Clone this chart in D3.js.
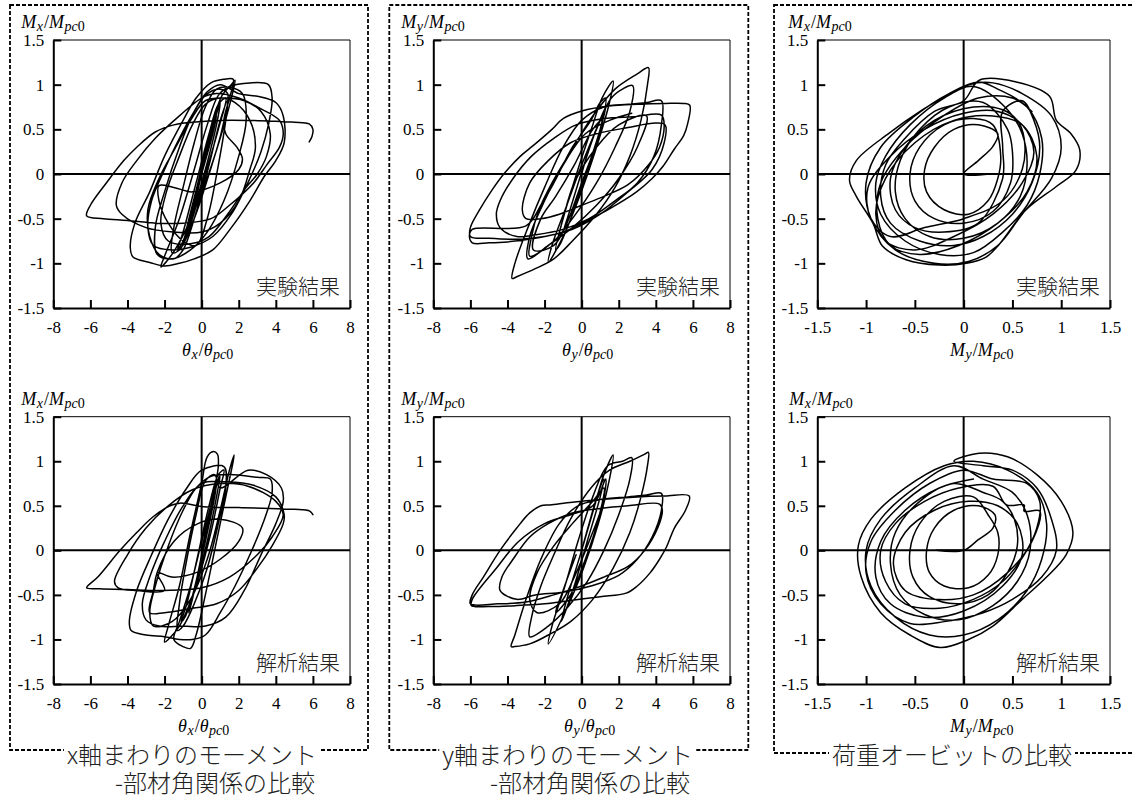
<!DOCTYPE html>
<html><head><meta charset="utf-8">
<script src="https://cdn.jsdelivr.net/npm/d3@7"></script>
<style>
body{margin:0;background:#fff}svg{display:block}
.serif{font-family:"Liberation Serif","Times New Roman","DejaVu Serif",serif}
.cjk{font-family:"Noto Sans CJK JP","Noto Sans CJK SC",sans-serif}
</style>
</head><body><svg id="c" width="1132" height="798"></svg>
<script>
// ---------- tick values ----------
const thetaTicks = [-8,-6,-4,-2,0,2,4,6,8];
const orbitTicks = [-1.5,-1,-0.5,0,0.5,1,1.5];
const momentTicks = [-1.5,-1,-0.5,0,0.5,1,1.5];

// ---------- labels ----------
const tagExp = "実験結果";
const tagAna = "解析結果";
const captionX = ["x軸まわりのモーメント","-部材角関係の比較"];
const captionY = ["y軸まわりのモーメント","-部材角関係の比較"];
const captionOrbit = ["荷重オービットの比較"];
const titleMx = [["M","m"],["x","s"],["/","n"],["M","m"],["pc","s"],["0","sn"]];
const titleMy = [["M","m"],["y","s"],["/","n"],["M","m"],["pc","s"],["0","sn"]];
const titleTx = [["θ","m"],["x","s"],["/","n"],["θ","m"],["pc","s"],["0","sn"]];
const titleTy = [["θ","m"],["y","s"],["/","n"],["θ","m"],["pc","s"],["0","sn"]];

// ---------- data: [horizontal value, vertical value] ----------
const expMxTheta = [
[0,0],[0.4,0.35],[0.8,0.65],[0.6,0.45],[0,0],[-0.5,-0.4],[-0.8,-0.65],[-0.5,-0.45],[0.1,0.1],[0.7,0.6],[1.0,0.8],
[0.8,0.55],[0.2,0.05],[-0.5,-0.45],[-1.0,-0.75],[-1.3,-0.85],[-1.0,-0.65],[-0.3,-0.1],[0.4,0.45],[0.9,0.78],[1.3,0.85],
[0.9,0.5],[0.2,0.0],[-0.5,-0.5],[-1.0,-0.8],[-0.8,-0.6],[-0.2,-0.1],[0.5,0.5],[1.1,0.88],
[1.6,1.0],[1.8,1.05],[1.6,0.85],[1.0,0.4],[0.2,-0.1],[-0.8,-0.6],[-1.6,-0.9],[-2.2,-1.04],[-2.0,-0.92],[-1.2,-0.5],[-0.4,0.05],[0.3,0.55],[0.9,0.88],[1.5,0.98],
[2.6,1.02],[3.6,1.0],[3.8,0.85],[3.6,0.55],[3.2,0.25],[2.6,-0.05],[1.6,-0.45],[0.6,-0.7],[-0.6,-0.82],[-1.6,-0.85],[-2.6,-0.8],[-2.9,-0.6],[-2.7,-0.3],[-2.0,0.05],[-1.2,0.4],[-0.4,0.7],[0.2,0.88],[1.0,0.95],
[1.4,0.9],[1.1,0.5],[0.4,0.0],[-0.4,-0.5],[-1.2,-0.85],[-1.6,-0.88],[-1.5,-0.6],[-1.0,-0.15],[-0.4,0.35],[0.2,0.75],[0.8,0.95],[1.5,0.97],[2.2,0.9],[2.4,0.6],[2.0,0.2],[1.2,-0.3],[0.3,-0.65],[-0.6,-0.85],[-1.6,-0.95],[-2.4,-0.9],[-2.5,-0.6],[-2.0,-0.2],[-1.2,0.3],[-0.4,0.7],[0.3,0.92],[1.0,1.0],
[2.0,0.9],[3.0,0.87],[4.0,0.8],[4.4,0.65],[4.45,0.35],[4.0,0.15],[3.4,-0.02],[2.6,-0.3],[1.6,-0.6],[0.6,-0.85],[-0.4,-0.95],[-1.2,-1.0],[-2.0,-1.03],[-2.8,-0.99],[-3.7,-0.93],[-3.85,-0.82],[-3.6,-0.55],[-2.8,-0.2],[-2.0,0.2],[-1.0,0.6],[-0.3,0.85],[0.5,1.02],[1.2,1.06],[1.7,1.06],
[1.5,0.85],[1.2,0.6],[1.3,0.45],[1.9,0.3],[2.2,0.17],[2.0,0.05],[1.0,-0.1],[-0.5,-0.2],[-1.5,-0.15],[-2.3,-0.13],[-2.3,-0.3],[-1.8,-0.55],[-1.0,-0.75],[-0.3,-0.8],[0.3,-0.5],[0.9,0.1],[1.3,0.6],[1.4,0.82],
[1.0,0.6],[0.4,0.1],[-0.4,-0.5],[-1.0,-0.85],[-1.5,-0.95],[-2.3,-0.9],[-2.8,-0.7],[-2.9,-0.4],[-2.3,-0.05],[-1.4,0.3],[-0.6,0.6],[0.2,0.82],[1.2,0.85],[2.3,0.82],[3.2,0.7],[3.7,0.45],[3.5,0.2],[3.0,0.0],
[2.4,-0.15],[1.4,-0.45],[0.4,-0.7],[-0.6,-0.78],[-1.8,-0.75],[-2.2,-0.55],[-1.9,-0.2],[-1.2,0.2],[-0.5,0.55],[0.2,0.78],[1.0,0.85],[1.8,0.8],[2.6,0.6],[2.9,0.3],[2.6,0.05],
[2.0,-0.3],[1.0,-0.55],[0,-0.65],[-1.5,-0.65],[-3,-0.6],[-4.3,-0.45],[-4.6,-0.35],[-4.3,-0.1],[-3.5,0.15],[-2.5,0.4],[-1.2,0.65],[0,0.85],[0.8,0.9],[2.0,0.85],[3.0,0.75],[4.2,0.6],[4.4,0.45],[4.2,0.3],[3.5,0.1],[2.8,-0.1],[1.5,-0.35],[0.5,-0.5],[-1,-0.55],[-2.5,-0.55],[-4,-0.52],[-5.3,-0.5],[-6.2,-0.47],[-6.0,-0.35],[-5.1,-0.09],[-4.2,0.15],[-3.5,0.3],[-2.5,0.47],[-1.5,0.55],[-0.5,0.58],[1.0,0.6],[2.5,0.6],[4.0,0.59],[5.0,0.58],[5.8,0.56],[6.0,0.5],[5.95,0.42],[5.8,0.36]
];

const expMyTheta = [
[0,0],[0.5,0.35],[1.0,0.6],[1.2,0.68],[0.8,0.35],[0,-0.1],[-0.6,-0.45],[-1.0,-0.65],[-0.7,-0.45],[0,0.02],[0.7,0.45],[1.3,0.75],
[1.0,0.5],[0.3,0.05],[-0.5,-0.45],[-1.2,-0.8],[-1.4,-0.85],[-1.0,-0.5],[-0.2,0.05],[0.6,0.55],[1.1,0.85],
[1.7,1.04],[1.5,0.8],[0.8,0.3],[-0.2,-0.3],[-1.0,-0.7],[-1.8,-0.99],[-1.6,-0.8],[-0.8,-0.35],[0,0.1],[0.8,0.5],[1.6,0.85],[2.2,0.95],[2.75,0.99],
[2.6,0.7],[1.8,0.3],[0.8,-0.1],[-0.5,-0.5],[-1.5,-0.75],[-2.8,-0.92],[-2.7,-0.7],[-2.3,-0.4],[-1.6,-0.1],[-0.6,0.25],[0.6,0.65],[1.8,0.95],[3.0,1.12],[3.6,1.19],
[3.55,1.0],[3.2,0.6],[2.6,0.2],[1.8,-0.15],[0.8,-0.45],[-0.5,-0.75],[-1.5,-0.95],[-2.5,-1.06],[-3.5,-1.15],[-3.75,-1.17],[-3.6,-1.0],[-2.8,-0.55],[-2.0,-0.15],[-1.0,0.3],[0,0.6],[1.2,0.75],[2.5,0.78],[3.5,0.8],[4.3,0.82],
[4.3,0.55],[3.9,0.2],[3.0,-0.1],[1.8,-0.3],[0.4,-0.5],[-1.0,-0.62],[-2.5,-0.68],[-3.5,-0.7],[-4.4,-0.6],[-4.6,-0.45],[-4.4,-0.3],[-3.7,-0.05],[-2.7,0.2],[-1.5,0.4],[-0.3,0.55],[1.2,0.62],[2.8,0.64],[4.3,0.66],[4.45,0.55],[4.2,0.3],[3.6,0.1],[2.5,-0.12],[1.2,-0.25],[0,-0.35],[-1.2,-0.45],[-2.2,-0.5],[-3.0,-0.5],[-3.2,-0.4],[-2.8,-0.1],[-1.8,0.15],[-0.6,0.35],[0.8,0.45],[2.5,0.52],[4.0,0.57],[4.5,0.55],[4.45,0.35],
[3.8,0.05],[2.5,-0.2],[1,-0.45],[-0.5,-0.62],[-2,-0.7],[-3.5,-0.73],[-5,-0.72],[-6,-0.7],[-6.0,-0.6],[-5.5,-0.4],[-4.8,-0.17],[-4.2,0],[-3.3,0.2],[-2.6,0.32],[-1.6,0.5],[-1,0.62],[0.1,0.71],[1.5,0.76],[3,0.78],[4.5,0.79],[5.5,0.79],[5.83,0.77],[5.7,0.55],[5.5,0.43],[5.0,0.28],[4.4,0.09],[3.8,-0.05],[2.96,-0.2],[1.5,-0.39],[0.5,-0.5],[-1,-0.65],[-2.5,-0.72],[-4,-0.76],[-5.0,-0.77],[-5.9,-0.77],[-6.05,-0.68],[-5.9,-0.62],
[-3.0,-0.58],[-2.2,-0.35],[-1.5,-0.1],[-0.5,0.3],[0.5,0.6],[1.0,0.8],[1.3,0.85],[1.0,0.5],[0.3,0.0],[-0.6,-0.45],[-1.5,-0.8],[-2.6,-0.85],[-2.2,-0.5],[-1.4,-0.25],[-0.4,0.1],[0.6,0.5],[1.1,0.6],[0.8,0.3],[0.1,-0.1],[-0.8,-0.55],[-1.3,-0.75],[-1.0,-0.5],[-0.4,-0.1],
[0.8,0.3],[2.0,0.55],[3.5,0.65],[3.0,0.3],[2.0,-0.05],[0.8,-0.35],[-0.5,-0.6],[-1.8,-0.8],[-2.9,-0.95],[-2.8,-0.7],[-2.0,-0.3],[-1.0,0.1],[0.2,0.45],[1.5,0.6],[2.7,0.68]
];

const expOrbit = [
[-0.25,0.0],[0.27,0.0],[0,0],[0.15,0.15],[0.3,0.31],[0.35,0.45],[0.15,0.55],[-0.1,0.5],[-0.3,0.3],[-0.4,0.05],[-0.38,-0.2],[-0.2,-0.4],[0.05,-0.45],[0.25,-0.3],[0.35,-0.05],[0.38,0.2],
[0.3,0.55],[0.1,0.62],[-0.2,0.55],[-0.45,0.3],[-0.55,0],[-0.5,-0.3],[-0.3,-0.5],[0,-0.55],[0.3,-0.42],[0.48,-0.1],[0.5,0.25],[0.45,0.5],
[0.2,0.8],[-0.15,0.75],[-0.45,0.5],[-0.65,0.15],[-0.7,-0.2],[-0.6,-0.5],[-0.35,-0.7],[0,-0.72],[0.35,-0.55],[0.58,-0.25],[0.65,0.1],[0.6,0.45],[0.45,0.72],
[0.1,0.98],[-0.2,0.85],[-0.55,0.55],[-0.8,0.2],[-0.9,-0.1],[-0.85,-0.45],[-0.6,-0.75],[-0.25,-0.9],[0.1,-0.88],[0.4,-0.65],[0.65,-0.35],[0.78,0],[0.8,0.4],[0.65,0.75],[0.35,0.95],
[0.15,1.03],[-0.15,0.9],[-0.5,0.65],[-0.85,0.3],[-1.0,-0.1],[-0.95,-0.5],[-0.7,-0.85],[-0.3,-1.0],[0.05,-0.98],[0.35,-0.8],[0.6,-0.45],[0.9,-0.05],[1.0,0.3],[0.9,0.65],[0.6,0.9],[0.3,1.02],
[0.05,1.0],[-0.14,0.9],[-0.42,0.72],[-0.76,0.46],[-1.1,0.15],[-1.17,-0.07],[-1.1,-0.25],[-0.93,-0.55],[-0.83,-0.81],[-0.59,-0.96],[-0.25,-1.02],[0.03,-1.0],[0.23,-0.93],[0.37,-0.78],[0.64,-0.4],[0.95,-0.14],[1.15,0.04],[1.19,0.27],[1.1,0.45],[0.95,0.6],[0.88,0.87],[0.54,1.03],[0.16,1.05],
[0.0,0.82],[-0.3,0.7],[-0.6,0.4],[-0.8,0.1],[-0.85,-0.25],[-0.75,-0.55],[-0.45,-0.75],[-0.1,-0.8],[0.2,-0.7],[0.5,-0.45],[0.7,-0.1],[0.78,0.3],[0.72,0.6],[0.6,0.82],
[0.4,0.7],[0.4,0.3],[0.4,-0.05],[0.15,-0.55],[-0.2,-0.65],[-0.5,-0.6],[-0.7,-0.4],[-0.75,-0.05],[-0.6,0.3],[-0.3,0.6],[0.1,0.75],[0.4,0.72],[0.55,0.6],[0.62,0.4],[0.6,0.05],
[0.4,-0.3],[0,-0.5],[-0.4,-0.6],[-0.75,-0.7],[-0.95,-0.5],[-0.98,-0.15],[-0.75,0.2],[-0.4,0.5],[0,0.68],[0.35,0.7],[0.6,0.55],[0.72,0.25],[0.6,-0.1],[0.3,-0.45],
[-0.1,-0.7],[-0.5,-0.85],[-0.8,-0.75],[-0.9,-0.45],[-0.8,-0.05],[-0.5,0.35],[-0.1,0.6],[0.3,0.65],
[0.6,0.55],[0.75,0.2],[0.65,-0.2],[0.35,-0.55],[-0.05,-0.8],[-0.45,-0.9],[-0.75,-0.8],[-0.88,-0.5],[-0.85,-0.1],[-0.6,0.3],[-0.25,0.62],[0.15,0.85],[0.5,0.85],[0.7,0.7]
];

const anaMxTheta = [
[0,0],[0.3,0.3],[0.6,0.6],[0.8,0.75],[0.7,0.6],[0.2,0.1],[-0.3,-0.35],[-0.6,-0.6],[-0.7,-0.7],[-0.5,-0.55],[0,-0.05],[0.5,0.45],[0.9,0.8],[1.0,0.85],
[0.8,0.6],[0.3,0.1],[-0.4,-0.45],[-0.9,-0.75],[-1.1,-0.8],[-0.8,-0.6],[-0.2,-0.05],[0.4,0.5],[0.9,0.85],[1.2,0.9],
[1.0,0.7],[0.5,0.2],[-0.3,-0.4],[-1.2,-0.85],[-1.8,-1.0],[-2.0,-1.03],[-1.8,-0.85],[-1.2,-0.4],[-0.6,0.2],[0,0.75],[0.3,1.05],[0.63,1.11],[0.85,1.08],[0.9,0.95],
[0.6,0.6],[0.0,0.1],[-0.6,-0.4],[-1.2,-0.8],[-1.5,-1.0],[-1.0,-1.08],[-0.6,-1.1],[-0.3,-0.95],[0.2,-0.5],[0.8,0.1],[1.3,0.6],[1.7,1.0],[1.75,1.07],
[1.5,0.9],[1.0,0.45],[0.3,-0.1],[-0.6,-0.55],[-1.6,-0.8],[-2.6,-0.85],[-2.8,-0.7],[-2.5,-0.4],[-1.8,0.05],[-1.0,0.45],[-0.3,0.7],[0.5,0.83],[1.5,0.85],[3.0,0.82],[3.7,0.8],[3.8,0.65],[3.3,0.3],[2.6,-0.05],[1.8,-0.4],[1.0,-0.7],[0.2,-0.95],[-0.5,-1.0],[-1.2,-1.0],[-2.0,-0.97],[-3.0,-0.95],[-3.8,-0.9],[-3.9,-0.8],[-3.5,-0.45],[-2.7,-0.05],[-1.8,0.35],[-0.8,0.7],[0,0.9],[1.2,0.94],
[1.3,0.7],[0.9,0.3],[0.3,-0.2],[-0.4,-0.6],[-1.0,-0.85],[-1.3,-0.9],[-1.2,-0.6],[-0.8,-0.1],[-0.3,0.4],[0.2,0.78],[0.7,0.85],[1.0,0.7],
[2.5,0.9],[3.5,0.85],[4.3,0.7],[4.4,0.55],[4.0,0.3],[3.2,-0.05],[2.3,-0.45],[1.3,-0.75],[0.2,-0.85],[-1.0,-0.85],[-2.3,-0.85],[-3.0,-0.78],[-3.2,-0.6],[-2.8,-0.3],[-2.0,0.1],[-1.0,0.5],[0,0.75],[1.4,0.77],[2.8,0.73],[4.0,0.6],[4.45,0.4],[4.4,0.3],[3.8,0.05],[3.0,-0.2],[2.0,-0.45],[0.8,-0.6],[-0.5,-0.65],[-2.0,-0.7],[-2.8,-0.7],[-2.6,-0.45],[-2.4,-0.25],
[-1.5,0.1],[-0.2,0.3],[1.0,0.35],[2.2,0.25],[2.0,0.1],[1.0,-0.1],[-0.3,-0.25],[-1.6,-0.3],[-2.4,-0.25],
[-2.0,-0.45],[-3.5,-0.45],[-4.5,-0.42],[-4.7,-0.35],[-4.0,-0.05],[-3.0,0.25],[-1.8,0.5],[-0.5,0.68],[1,0.75],[2.5,0.72],[4.0,0.55],[4.4,0.4],[3.8,0.15],[3.0,-0.05],[1.5,-0.3],[0,-0.42],[-2,-0.45],[-4,-0.44],[-5.5,-0.43],[-6.2,-0.42],[-5.6,-0.3],[-4.4,0.0],[-3.5,0.2],[-2.6,0.38],[-1.7,0.5],[-1.17,0.53],[0.1,0.49],[2.0,0.48],[3.7,0.47],[5.0,0.46],[5.83,0.44],[6.0,0.4]
];

const anaMyTheta = [
[0,0],[0.4,0.3],[0.9,0.65],[1.2,0.8],[1.0,0.6],[0.3,0.1],[-0.4,-0.4],[-0.9,-0.7],[-1.1,-0.8],[-0.8,-0.55],[0,0.0],[0.7,0.5],[1.2,0.85],
[1.7,1.07],[1.5,0.8],[0.9,0.3],[0.1,-0.2],[-0.8,-0.65],[-1.8,-1.05],[-1.6,-0.85],[-0.9,-0.4],[-0.2,0.1],[0.6,0.6],[1.4,0.95],[2.2,1.0],[2.7,1.04],
[2.6,0.8],[2.0,0.4],[1.2,0.0],[0.3,-0.35],[-0.8,-0.65],[-1.8,-0.85],[-2.8,-0.97],[-2.7,-0.75],[-2.2,-0.4],[-1.5,-0.05],[-0.6,0.35],[0.5,0.7],[1.5,0.9],[2.6,1.0],[3.4,1.08],[3.6,1.1],
[3.55,0.95],[3.2,0.6],[2.6,0.2],[1.7,-0.2],[0.6,-0.55],[-0.6,-0.8],[-1.8,-0.95],[-2.8,-1.05],[-3.6,-1.08],[-3.8,-1.08],[-3.6,-0.95],[-3.0,-0.55],[-2.2,-0.1],[-1.2,0.3],[-0.2,0.5],[1,0.57],[2.5,0.6],[3.5,0.62],[4.3,0.64],
[4.3,0.45],[3.8,0.15],[3.0,-0.1],[2.0,-0.28],[0.5,-0.4],[-1,-0.47],[-2.5,-0.5],[-3.5,-0.55],[-4.4,-0.45],[-4.3,-0.3],[-3.7,-0.1],[-2.8,0.15],[-1.8,0.3],[-0.5,0.42],[1.0,0.47],[2.5,0.5],[4.2,0.52],[4.35,0.45],[4.1,0.25],[3.4,0.0],[2.5,-0.18],[1.2,-0.3],[0,-0.4],[-1.5,-0.5],
[-3,-0.58],[-4.5,-0.6],[-6.0,-0.6],[-5.9,-0.5],[-5.3,-0.3],[-4.4,0],[-3.5,0.25],[-2.8,0.42],[-2.2,0.5],[-1.7,0.51],[-0.5,0.54],[1.0,0.57],[3,0.6],[4.5,0.61],[5.8,0.61],[5.6,0.45],[5.0,0.25],[4.58,0.04],[4.2,-0.1],[3.7,-0.25],[3.0,-0.4],[2.4,-0.48],[1.0,-0.52],[-0.5,-0.56],[-2,-0.6],[-3.5,-0.62],[-5.0,-0.63],[-5.95,-0.62],[-5.9,-0.55],
[-4.6,-0.2],[-3.4,0.1],[-2,0.3],[-0.6,0.4],[0.6,0.5],[1.3,0.8],[1.1,0.5],[0.4,0.1],[-0.4,-0.3],[-1.2,-0.6],[-2.4,-0.7],[-2.8,-0.55],[-2.4,-0.25],[-1.5,0.05],[-0.5,0.3],[0.6,0.55],[1.2,0.7],[0.9,0.35],[0.2,-0.1],[-0.6,-0.5],[-1.4,-0.7],[-1.0,-0.45],[-0.3,-0.05]
];

const anaOrbit = [
[0,0],[-0.28,0],[0,0],[0.15,0.12],[0.3,0.25],[0.32,0.4],[0.15,0.5],[-0.1,0.45],[-0.3,0.25],[-0.38,0],[-0.35,-0.25],[-0.2,-0.4],[0.05,-0.42],[0.25,-0.28],[0.35,-0.05],[0.35,0.2],[0.25,0.4],
[0.1,0.6],[-0.2,0.55],[-0.45,0.3],[-0.55,0.0],[-0.52,-0.3],[-0.35,-0.52],[-0.05,-0.6],[0.25,-0.5],[0.45,-0.25],[0.55,0.05],[0.52,0.35],[0.4,0.55],[0.2,0.65],
[-0.1,0.75],[-0.45,0.55],[-0.7,0.2],[-0.75,-0.15],[-0.65,-0.5],[-0.4,-0.72],[-0.05,-0.78],[0.3,-0.62],[0.55,-0.35],[0.68,0],[0.65,0.4],[0.5,0.65],[0.2,0.8],
[-0.1,0.95],[-0.5,0.7],[-0.85,0.35],[-1.0,0],[-0.95,-0.4],[-0.7,-0.75],[-0.35,-0.95],[0,-0.95],[0.35,-0.78],[0.65,-0.45],[0.8,-0.1],[0.85,0.3],[0.75,0.65],[0.45,0.9],[0.1,1.0],
[-0.2,0.95],[-0.6,0.7],[-0.95,0.35],[-1.08,0.05],[-1.05,-0.3],[-0.85,-0.7],[-0.55,-0.95],[-0.24,-1.09],[0.05,-1.0],[0.3,-0.85],[0.6,-0.55],[0.85,-0.3],[1.05,-0.05],[1.12,0.2],[1.0,0.55],[0.75,0.85],[0.45,1.05],[0.16,1.09],[-0.1,1.0],
[0.2,0.95],[0.5,0.9],[0.75,0.7],[0.9,0.35],[0.95,0.0],[0.8,-0.3],[0.5,-0.55],[0.2,-0.7],[-0.2,-0.8],[-0.55,-0.82],[-0.85,-0.6],[-1.0,-0.25],[-0.95,0.1],[-0.7,0.45],[-0.35,0.75],[0,0.9],
[0.3,0.8],[0.65,0.75],[0.78,0.55],[0.75,0.25],[0.62,-0.05],[0.4,-0.35],[0.1,-0.55],[-0.25,-0.65],[-0.6,-0.6],[-0.8,-0.35],[-0.85,0],[-0.7,0.3],[-0.4,0.55],[-0.05,0.7],[0.3,0.72],[0.44,0.51],[0.62,0.51],[0.62,0.44],[0.78,0.44],
[0.7,0.1],[0.45,-0.25],[0.1,-0.5],[-0.3,-0.55],[-0.6,-0.45],[-0.72,-0.15],[-0.6,0.2],[-0.3,0.45],[0.05,0.55],[0.35,0.5],
[0.55,0.3],[0.6,-0.05],[0.4,-0.4],[0.0,-0.68],[-0.4,-0.75],[-0.75,-0.6],[-0.9,-0.3],[-0.85,0.1],[-0.6,0.45],[-0.25,0.7],[0.1,0.8]
];

// ---------- drawing ----------
const svg = d3.select("#c");

const boxes = [[10,5,368,750],[389.3,5,748.3,750],[774,5,1140,753]];
boxes.forEach(b => {
  svg.append("rect").attr("x",b[0]).attr("y",b[1]).attr("width",b[2]-b[0]).attr("height",b[3]-b[1])
    .attr("fill","none").attr("stroke","#000").attr("stroke-width",1.8).attr("stroke-dasharray","4,2");
});

const cols = [[53.3,350],[433.3,730],[817.3,1110]];
const rows = [[40,308],[416.7,684]];

const panels = [
  {data:expMxTheta, c:0, r:0, xd:[-8,8], xt:thetaTicks, yT:titleMx, xT:titleTx, tag:tagExp, yTx:-32, xTx:6},
  {data:expMyTheta, c:1, r:0, xd:[-8,8], xt:thetaTicks, yT:titleMy, xT:titleTy, tag:tagExp, yTx:-32, xTx:6},
  {data:expOrbit,   c:2, r:0, xd:[-1.5,1.5], xt:orbitTicks, yT:titleMx, xT:titleMy, tag:tagExp, yTx:-29, xTx:18},
  {data:anaMxTheta, c:0, r:1, xd:[-8,8], xt:thetaTicks, yT:titleMx, xT:titleTx, tag:tagAna, yTx:-32, xTx:2},
  {data:anaMyTheta, c:1, r:1, xd:[-8,8], xt:thetaTicks, yT:titleMy, xT:titleTy, tag:tagAna, yTx:-32, xTx:8},
  {data:anaOrbit,   c:2, r:1, xd:[-1.5,1.5], xt:orbitTicks, yT:titleMx, xT:titleMy, tag:tagAna, yTx:-28, xTx:18}
];

function mathText(sel, parts, size){
  const sub = Math.round(size*0.75);
  let shifted = false;
  parts.forEach(([t,k]) => {
    const ts = sel.append("tspan").text(t);
    if (k === "m" || k === "n") {
      ts.style("font-size",size+"px").style("font-style", k==="m"?"italic":"normal");
      if (shifted){ ts.attr("dy",-3).attr("dx",1); shifted=false; }
    } else {
      ts.style("font-size",sub+"px").style("font-style", k==="s"?"italic":"normal");
      if(!shifted){ ts.attr("dy",3).attr("dx",0.5); shifted=true; }
    }
  });
}

panels.forEach(p => {
  const [L,R] = cols[p.c], [T,B] = rows[p.r];
  const x = d3.scaleLinear().domain(p.xd).range([L,R]);
  const y = d3.scaleLinear().domain([-1.5,1.5]).range([B,T]);
  const g = svg.append("g");

  g.append("line").attr("x1",L).attr("x2",R).attr("y1",T).attr("y2",T).attr("stroke","#000").attr("stroke-width",1);
  g.append("line").attr("x1",R).attr("x2",R).attr("y1",T).attr("y2",B).attr("stroke","#000").attr("stroke-width",1);

  const line = d3.line().x(d=>x(d[0])).y(d=>y(d[1])).curve(d3.curveCatmullRom.alpha(0.5));
  g.append("path").datum(p.data).attr("d",line).attr("fill","none").attr("stroke","#000")
    .attr("stroke-width",1.5).attr("stroke-linejoin","round").attr("stroke-linecap","round");

  g.append("line").attr("x1",x(0)).attr("x2",x(0)).attr("y1",T).attr("y2",B).attr("stroke","#000").attr("stroke-width",2);
  g.append("line").attr("x1",L).attr("x2",R).attr("y1",y(0)).attr("y2",y(0)).attr("stroke","#000").attr("stroke-width",2);

  const fmt = d => String(d);
  const ax = g.append("g").attr("transform",`translate(0,${B})`)
    .call(d3.axisBottom(x).tickValues(p.xt).tickFormat(fmt).tickSizeInner(-8).tickSizeOuter(0).tickPadding(13));
  const ay = g.append("g").attr("transform",`translate(${L},0)`)
    .call(d3.axisLeft(y).tickValues(momentTicks).tickFormat(fmt).tickSizeInner(-8).tickSizeOuter(0).tickPadding(9));
  [ax,ay].forEach(a => {
    a.attr("font-family",null).attr("font-size",null);
    a.select(".domain").attr("stroke","#000").attr("stroke-width",2);
    a.selectAll(".tick line").attr("stroke","#000").attr("stroke-width",2);
    a.selectAll(".tick text").attr("class","serif").style("font-size","17px").attr("fill","#000");
  });

  const yt = g.append("text").attr("class","serif").attr("x",L+p.yTx).attr("y",T-12).attr("fill","#000");
  mathText(yt, p.yT, 18);
  const xt = g.append("text").attr("class","serif").attr("x",(L+R)/2+p.xTx).attr("y",B+48).attr("text-anchor","middle").attr("fill","#000");
  mathText(xt, p.xT, 18);

  g.append("text").attr("class","cjk").attr("x",R-10).attr("y",B-14).attr("text-anchor","end")
    .style("font-size","21px").style("font-weight",300).attr("fill","#222").text(p.tag);
});

const caps = [
  {lines:captionX, right:[317,315], base:[764,792]},
  {lines:captionY, right:[693,690], base:[764,792]},
  {lines:captionOrbit, right:[1072], base:[764]}
];
caps.forEach(cp => {
  cp.lines.forEach((t,i) => {
    const tx = svg.append("text").attr("class","cjk").attr("x",cp.right[i]).attr("y",cp.base[i]).attr("text-anchor","end")
      .style("font-size","24px").style("font-weight",300).attr("fill","#222").text(t);
    const bb = tx.node().getBBox();
    svg.insert("rect", () => tx.node()).attr("x",bb.x-3).attr("y",bb.y+4).attr("width",bb.width+6).attr("height",bb.height-8).attr("fill","#fff");
  });
});
</script></body></html>
